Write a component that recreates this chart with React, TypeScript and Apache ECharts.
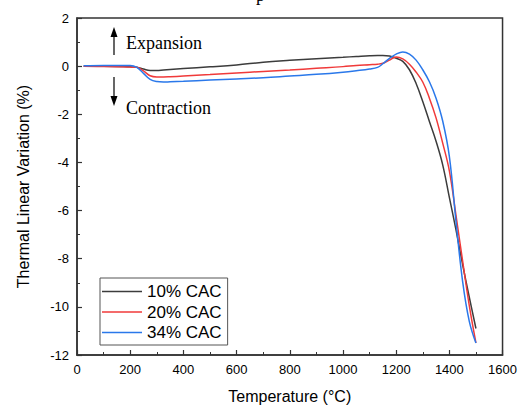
import React, { useEffect, useRef } from "react";
import * as echarts from "echarts";

const temperatures = [25, 100, 200, 225, 250, 275, 300, 325, 350, 400, 500, 600, 700, 800, 900, 1000, 1050, 1100, 1130, 1150, 1175, 1200, 1225, 1250, 1275, 1300, 1325, 1350, 1375, 1400, 1425, 1450, 1475, 1500];
const cac10 = [0, 0, -0.03, -0.05, -0.12, -0.18, -0.18, -0.16, -0.14, -0.1, -0.03, 0.05, 0.16, 0.24, 0.31, 0.37, 0.4, 0.43, 0.44, 0.44, 0.42, 0.33, 0.2, -0.15, -0.72, -1.47, -2.3, -3.12, -4.1, -5.45, -6.8, -8.25, -9.6, -10.9];
const cac20 = [0, -0.02, -0.04, -0.05, -0.2, -0.4, -0.45, -0.45, -0.44, -0.41, -0.35, -0.28, -0.22, -0.16, -0.09, -0.02, 0.03, 0.06, 0.08, 0.12, 0.25, 0.38, 0.3, 0.08, -0.25, -0.66, -1.33, -2.15, -3.2, -4.35, -6.2, -8.1, -9.95, -11.5];
const cac34 = [0.02, 0.03, 0.03, -0.05, -0.3, -0.55, -0.64, -0.66, -0.65, -0.63, -0.58, -0.53, -0.48, -0.41, -0.34, -0.25, -0.19, -0.12, -0.05, 0.1, 0.32, 0.5, 0.59, 0.5, 0.25, -0.15, -0.65, -1.33, -2.28, -3.75, -6.45, -8.95, -10.6, -11.5];
const seriesNames = ["10% CAC", "20% CAC", "34% CAC"];
const seriesColors = ["#3c3c3c", "#f03a3a", "#2a78ea"];
const xTicks = { min: 0, max: 1600, interval: 200 };
const yTicks = { min: -12, max: 2, interval: 2 };

export default function App() {
  const ref = useRef<HTMLDivElement>(null);
  useEffect(() => {
    if (!ref.current) return;
    const chart = echarts.init(ref.current, null, { renderer: "svg" });
    const allValues = [cac10, cac20, cac34];
    const axisCommon = {
      axisLine: { show: true, onZero: false, lineStyle: { color: "#333", width: 1.5 } },
      axisTick: { show: true, inside: true, length: 5, lineStyle: { color: "#333", width: 1.2 } },
      minorTick: { show: true, splitNumber: 2, length: 3, lineStyle: { color: "#333", width: 1 } },
      splitLine: { show: false },
      axisLabel: { color: "#000", fontFamily: "Arial, Liberation Sans", fontSize: 13, margin: 8, formatter: (v: number) => String(v) },
      nameTextStyle: { color: "#000", fontFamily: "Arial, Liberation Sans", fontSize: 16 },
    };
    chart.setOption({
      animation: false,
      backgroundColor: "#fff",
      grid: { left: 77, top: 18, right: 17, bottom: 50, show: true, borderColor: "#333", borderWidth: 1.5 },
      legend: {
        orient: "vertical",
        left: 100,
        top: 278,
        icon: "rect",
        itemWidth: 40,
        itemHeight: 1.5,
        itemGap: 3.5,
        padding: [5, 6, 4, 2],
        borderColor: "#555",
        borderWidth: 1,
        backgroundColor: "#fff",
        textStyle: { fontFamily: "Arial, Liberation Sans", fontSize: 17, color: "#000", lineHeight: 17 },
        data: seriesNames,
      },
      xAxis: {
        type: "value",
        ...xTicks,
        name: "Temperature (°C)",
        nameLocation: "middle",
        nameGap: 33,
        ...axisCommon,
      },
      yAxis: {
        type: "value",
        ...yTicks,
        name: "Thermal Linear Variation (%)",
        nameLocation: "middle",
        nameGap: 46,
        ...axisCommon,
      },
      series: seriesNames.map((name, i) => ({
        name,
        type: "line",
        symbol: "none",
        smooth: 0.4,
        lineStyle: { color: seriesColors[i], width: 1.5 },
        itemStyle: { color: seriesColors[i] },
        data: temperatures.map((t, j) => [t, allValues[i][j]]),
      })),
      graphic: [
        { type: "text", left: 256, top: -14, style: { text: "p", font: "18px 'Liberation Serif', 'Times New Roman', serif", fill: "#000" } },
        { type: "line", shape: { x1: 114, y1: 36, x2: 114, y2: 55 }, style: { stroke: "#000", lineWidth: 1.2 } },
        { type: "polygon", shape: { points: [[114, 27], [110.5, 37], [117.5, 37]] }, style: { fill: "#000" } },
        { type: "line", shape: { x1: 114, y1: 77, x2: 114, y2: 97 }, style: { stroke: "#000", lineWidth: 1.2 } },
        { type: "polygon", shape: { points: [[114, 106], [110.5, 96], [117.5, 96]] }, style: { fill: "#000" } },
        { type: "text", x: 126, y: 43, style: { text: "Expansion", font: "18px 'Liberation Serif', 'Times New Roman', serif", fill: "#000", verticalAlign: "middle" } },
        { type: "text", x: 126, y: 108, style: { text: "Contraction", font: "18px 'Liberation Serif', 'Times New Roman', serif", fill: "#000", verticalAlign: "middle" } },
      ],
    });
    return () => chart.dispose();
  }, []);
  return <div ref={ref} style={{ position: "fixed", left: 0, top: 0, width: 520, height: 409 }} />;
}
